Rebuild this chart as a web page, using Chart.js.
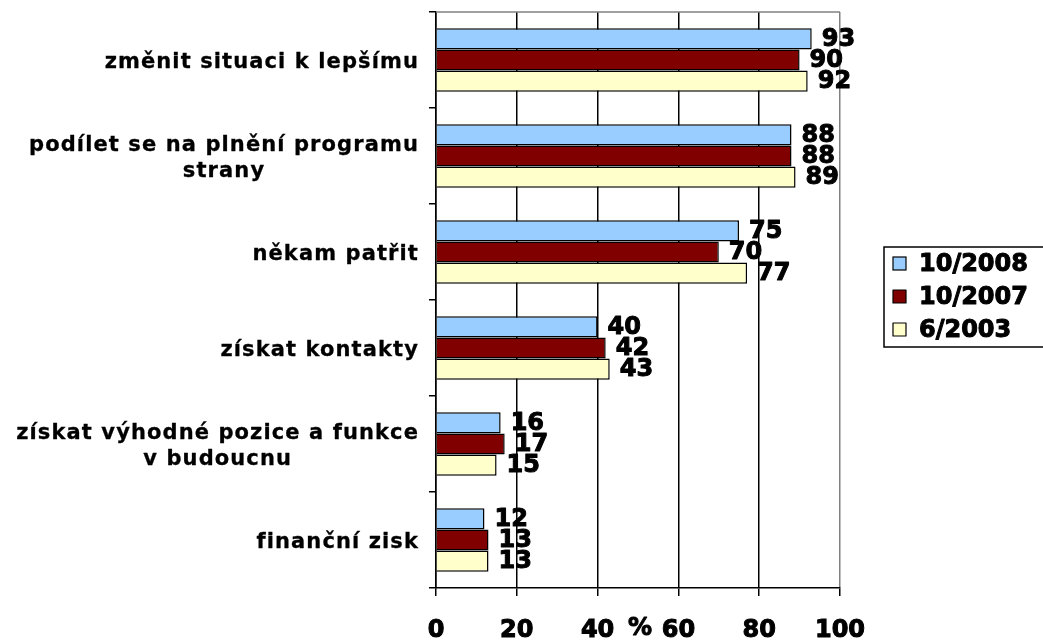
<!DOCTYPE html>
<html>
<head>
<meta charset="utf-8">
<script src="https://cdn.jsdelivr.net/npm/chart.js@4/dist/chart.umd.min.js"></script>
<style>
  html, body { margin: 0; padding: 0; background: #fff; overflow: hidden; }
  #wrap { width: 1043px; height: 641px; }
</style>
</head>
<body>
<div id="wrap"><canvas id="chart" width="1043" height="641"></canvas></div>
<script>
// categories (multi-line labels as arrays)
const categories = [
    ['změnit situaci k lepšímu'],
    ['podílet se na plnění programu', 'strany'],
    ['někam patřit'],
    ['získat kontakty'],
    ['získat výhodné pozice a funkce', 'v budoucnu'],
    ['finanční zisk']
];
const seriesNames = ['10/2008', '10/2007', '6/2003'];
const values2008 = [93, 88, 75, 40, 16, 12];
const values2007 = [90, 88, 70, 42, 17, 13];
const values2003 = [92, 89, 77, 43, 15, 13];
const xTicks = [0, 20, 40, 60, 80, 100];
const unitLabel = '%';

const FONT = '"DejaVu Sans", Verdana, sans-serif';

// heavy text: fill + thin stroke, to get closer to the chunky Verdana bold
function heavyText(ctx, text, x, y, w) {
    ctx.fillText(text, x, y);
    if (!w) return;
    ctx.lineWidth = w;
    ctx.strokeStyle = ctx.fillStyle;
    ctx.lineJoin = 'round';
    ctx.strokeText(text, x, y);
}

// y category labels: right aligned block, lines centered inside the block
const categoryLabels = {
    id: 'categoryLabels',
    afterDraw(chart) {
        const { ctx, scales: { y } } = chart;
        ctx.save();
        ctx.font = 'bold 21px ' + FONT;
        ctx.letterSpacing = '1.1px';
        ctx.fillStyle = '#000';
        ctx.textBaseline = 'middle';
        ctx.textAlign = 'center';
        const right = y.right - 17;
        const lineH = 26;
        categories.forEach((lines, i) => {
            const widths = lines.map(l => ctx.measureText(l).width);
            const w = Math.max(...widths);
            const cx = right - w / 2;
            const cy = y.getPixelForValue(i) + 3;
            const top = cy - (lines.length - 1) * lineH / 2;
            lines.forEach((l, k) => heavyText(ctx, l, cx, top + k * lineH, 0.3));
        });
        ctx.restore();
    }
};

// value labels next to bar ends, plus the "%" unit and the top border
const extras = {
    id: 'extras',
    afterDatasetsDraw(chart) {
        const { ctx, chartArea, scales: { x } } = chart;
        ctx.save();
        ctx.font = 'bold 24px ' + FONT;
        ctx.fillStyle = '#000';
        ctx.textBaseline = 'middle';
        ctx.textAlign = 'left';
        chart.data.datasets.forEach((ds, di) => {
            const meta = chart.getDatasetMeta(di);
            meta.data.forEach((bar, i) => {
                heavyText(ctx, String(ds.data[i]), bar.x + 10, bar.y + 1, 1);
            });
        });
        // unit sign between the 40 and 60 ticks
        ctx.textAlign = 'center';
        heavyText(ctx, unitLabel, x.getPixelForValue(50) + 2, 629, 1);
        // gray top border of the plot area
        ctx.strokeStyle = '#808080';
        ctx.lineWidth = 1.5;
        ctx.beginPath();
        ctx.moveTo(chartArea.left, chartArea.top);
        ctx.lineTo(chartArea.right, chartArea.top);
        ctx.stroke();
        ctx.restore();
    }
};

// boxed legend on the right
const boxLegend = {
    id: 'boxLegend',
    afterDraw(chart) {
        const { ctx } = chart;
        ctx.save();
        const bx = 884, by = 247, bw = 170, bh = 100;
        ctx.strokeStyle = '#000';
        ctx.lineWidth = 1.5;
        ctx.strokeRect(bx, by, bw, bh);
        ctx.font = 'bold 24px ' + FONT;
        ctx.textBaseline = 'middle';
        ctx.textAlign = 'left';
        chart.data.datasets.forEach((ds, i) => {
            const cy = 264 + i * 33;
            ctx.fillStyle = ds.backgroundColor;
            ctx.fillRect(893, cy - 7, 13, 13);
            ctx.lineWidth = 1.2;
            ctx.strokeStyle = '#000';
            ctx.strokeRect(893, cy - 7, 13, 13);
            ctx.fillStyle = '#000';
            heavyText(ctx, ds.label, 919, cy + 1, 1);
        });
        ctx.restore();
    }
};

function drawChart() {
    const ctx = document.getElementById('chart').getContext('2d');
    new Chart(ctx, {
        type: 'bar',
        data: {
            labels: categories,
            datasets: [
                { label: seriesNames[0], data: values2008, backgroundColor: '#99CCFF' },
                { label: seriesNames[1], data: values2007, backgroundColor: '#800000' },
                { label: seriesNames[2], data: values2003, backgroundColor: '#FFFFCC' }
            ].map(d => Object.assign(d, {
                borderColor: '#000',
                borderWidth: 1.5,
                categoryPercentage: 0.66,
                barPercentage: 1
            }))
        },
        options: {
            indexAxis: 'y',
            responsive: false,
            animation: false,
            devicePixelRatio: 1,
            layout: { padding: { top: 12, right: 203, left: 0, bottom: 0 } },
            plugins: {
                legend: { display: false },
                tooltip: { enabled: false }
            },
            scales: {
                x: {
                    type: 'linear',
                    min: xTicks[0],
                    max: xTicks[xTicks.length - 1],
                    afterBuildTicks: s => { s.ticks = xTicks.map(v => ({ value: v })); },
                    ticks: {
                        color: '#000',
                        font: { family: FONT, size: 24, weight: 'bold' },
                        textStrokeColor: '#000',
                        textStrokeWidth: 1,
                        padding: 20,
                        maxRotation: 0,
                        autoSkip: false
                    },
                    grid: {
                        color: c => (c.tick && c.tick.value === 100 ? '#808080' : '#000'),
                        lineWidth: 1.5,
                        tickLength: 8,
                        tickColor: '#000'
                    },
                    border: { color: '#000', width: 1.5 },
                    afterFit: s => { s.height = 53; }
                },
                y: {
                    type: 'category',
                    ticks: { display: false },
                    grid: {
                        offset: true,
                        drawOnChartArea: false,
                        tickLength: 7,
                        color: '#000',
                        lineWidth: 1.5
                    },
                    border: { color: '#000', width: 1.5 },
                    afterFit: s => { s.width = 436; }
                }
            }
        },
        plugins: [categoryLabels, extras, boxLegend]
    });
}

// make sure the bold face is ready before drawing on the canvas
Promise.all([
    document.fonts.load('bold 24px "DejaVu Sans"'),
    document.fonts.load('bold 21px "DejaVu Sans"')
]).then(drawChart, drawChart);
</script>
</body>
</html>
